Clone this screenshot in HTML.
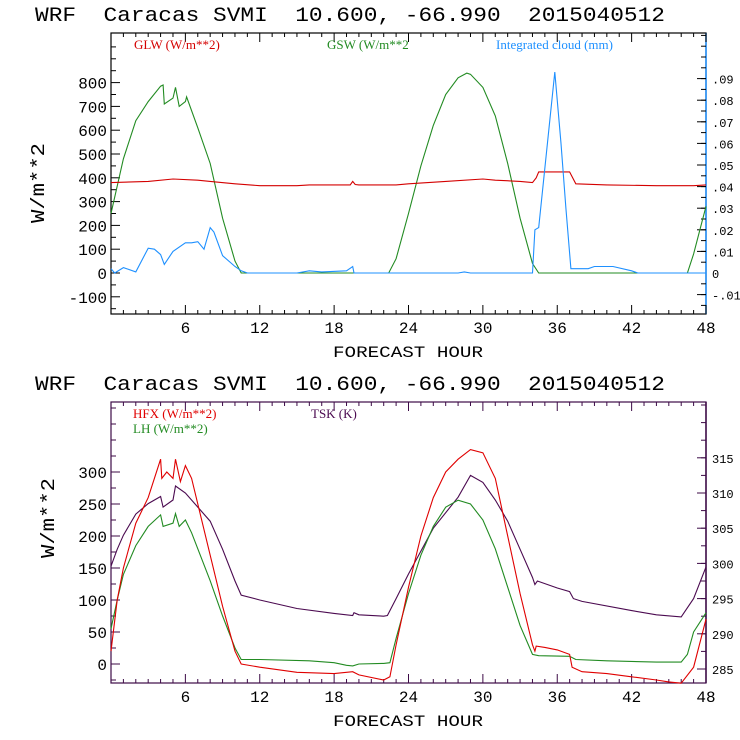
<!DOCTYPE html>
<html><head><meta charset="utf-8">
<style>
html,body{margin:0;padding:0;background:#fff;}
svg{display:block;font-family:"Liberation Mono",monospace;}
.t{font-size:20px;white-space:pre;}
.tk{font-size:16px;}
.lg{font-family:"Liberation Serif",serif;font-size:13px;}
</style></head>
<body>
<svg id="c" width="740" height="740" xmlns="http://www.w3.org/2000/svg">
<text class="t" x="35" y="21" textLength="630" lengthAdjust="spacingAndGlyphs" xml:space="preserve">WRF  Caracas SVMI  10.600, -66.990  2015040512</text>
<text class="t" x="35" y="390" textLength="630" lengthAdjust="spacingAndGlyphs" xml:space="preserve">WRF  Caracas SVMI  10.600, -66.990  2015040512</text>
<g id="top"></g><g id="bot"></g>
</svg>
<script>
// ---- top chart data ----
const gswHours=[0,1,2,3,4,4.2,4.3,5,5.2,5.5,6,6.1,7,8,9,10,10.5,22.4,23,24,25,26,27,28,28.7,29,30,31,32,33,34,34.5,46.5,47,48];
const gswVals=[250,480,640,720,785,790,710,735,780,700,720,740,610,460,230,50,0,0,60,250,450,620,750,820,840,835,780,660,460,230,40,0,0,80,280];
const glwHours=[0,3,5,7,8,10,12,15,16,19.3,19.5,19.7,20,23,24,27,30,31,33,34,34.3,34.5,37,37.5,40,44,47,48];
const glwVals=[380,385,395,390,385,375,367,367,370,370,385,372,370,370,375,385,395,390,385,380,400,425,425,375,370,367,367,370];
const cldHours=[0,0.3,1,2,3,3.5,4,4.3,5,6,6.5,7,7.5,8,8.3,9,10,10.5,11,15,16,17,19,19.5,19.6,28,28.5,29,34,34.2,34.5,35.8,36.3,36.7,37.1,38.5,39,40.5,42,42.5,48];
const cldVals=[0.002,0,0.0025,0.0005,0.0115,0.011,0.0085,0.004,0.01,0.014,0.014,0.0145,0.011,0.021,0.019,0.008,0.003,0.001,0,0,0.001,0.0005,0.001,0.003,0,0,0.0005,0,0,0.02,0.021,0.093,0.06,0.03,0.002,0.002,0.003,0.003,0.001,0,0];
const topLeftTicks=[-100,0,100,200,300,400,500,600,700,800];
const topRightTicks=[-0.01,0,0.01,0.02,0.03,0.04,0.05,0.06,0.07,0.08,0.09];
const topRightLabels=['-.01','0','.01','.02','.03','.04','.05','.06','.07','.08','.09'];
const xTicks=[6,12,18,24,30,36,42,48];
// ---- bottom chart data ----
const hfxHours=[0,0.5,1,2,3,4,4.1,4.5,5,5.2,5.6,6,6.5,7,8,9,10,10.5,12,15,18,19.5,20,22,22.5,23,24,25,26,27,28,29,30,31,32,33,34,34.2,34.3,35,36,37,37.2,38,40,42,44,45,46,47,48];
const hfxVals=[20,100,150,220,260,320,290,300,290,320,285,310,290,250,170,90,20,0,-5,-13,-15,-12,-17,-25,-20,30,120,200,260,300,320,335,330,290,200,110,30,20,28,26,22,15,-5,-12,-15,-20,-25,-28,-30,-5,70];
const lhHours=[0,0.5,1,2,3,4,4.2,5,5.2,5.5,6,6.5,7,8,9,10,10.5,12,16,18,19,19.5,20,22,22.5,23,24,25,26,27,28,29,30,31,32,33,34,34.5,37,37.5,40,44,46,46.5,47,48];
const lhVals=[55,100,140,185,215,233,215,220,235,215,225,205,180,130,75,25,7,7,5,2,-2,-3,0,1,2,40,110,170,215,245,256,250,225,180,120,60,15,13,12,7,5,3,3,15,50,80];
const tskHours=[0,0.5,1,2,3,4,4.2,5,5.2,6,7,8,9,10,10.5,12,15,18,19.5,19.6,20,22,22.3,23,24,26,28,29,30,31,32,33,34,34.2,34.4,36,37,37.3,38,42,44,46,47,48];
const tskVals=[299.6,302,304,307,308.5,309.5,308,309,311,310,308,306,302,297.5,295.5,294.8,293.6,292.9,292.6,293,292.7,292.5,292.6,295,298.5,305,309.4,312.5,311.5,309,306,302,298,297,297.5,296.5,296,295,294.6,293.3,292.7,292.4,295,299.5];
const botLeftTicks=[0,50,100,150,200,250,300];
const botRightTicks=[285,290,295,300,305,310,315];

const NS='http://www.w3.org/2000/svg';
function mk(parent,tag,attrs){const e=document.createElementNS(NS,tag);for(const k in attrs)e.setAttribute(k,attrs[k]);parent.appendChild(e);return e;}
const X0=111,X1=706;
const xs=h=>X0+(X1-X0)*h/48;

function frame(g,top,bot,col,rcol){
  const r=mk(g,'rect',{x:X0,y:top,width:X1-X0,height:bot-top,fill:'none',stroke:col,'stroke-width':1.2});
  
  
  const rl=mk(g,'line',{x1:X1,y1:top,x2:X1,y2:bot,stroke:rcol,'stroke-width':1.5});
  
  
  for(let h=1;h<=48;h++){
    const L=h%6===0?9:4;
    mk(g,'line',{x1:xs(h),y1:bot,x2:xs(h),y2:bot-L,stroke:col});
    mk(g,'line',{x1:xs(h),y1:top,x2:xs(h),y2:top+L,stroke:col});
  }
  xTicks.forEach(h=>{
    const t=mk(g,'text',{x:xs(h),y:bot+19,'text-anchor':'middle',class:'tk'});
    t.textContent=h;
    
    
  });
  const xt=mk(g,'text',{x:408,y:bot+43,'text-anchor':'middle',class:'tk',textLength:150,lengthAdjust:'spacingAndGlyphs'});
  xt.textContent='FORECAST HOUR';
  
  
}
function line(g,hours,vals,ys,col,name){
  const d=hours.map((h,i)=>(i?'L':'M')+xs(h).toFixed(1)+' '+ys(vals[i]).toFixed(1)).join('');
  const p=mk(g,'path',{d:d,fill:'none',stroke:col,'stroke-width':1.1});
  
  
}
function leftAxis(g,ticks,ys,minorStep,lo,hi,top,bot,col,ty){
  for(let v=lo;v<=hi;v+=minorStep){const y=ys(v);if(y<top||y>bot)continue;
    const maj=ticks.includes(v);mk(g,'line',{x1:X0,y1:y,x2:X0+(maj?9:5),y2:y,stroke:col});}
  ticks.forEach(v=>{const t=mk(g,'text',{x:X0-4,y:ys(v)+6,'text-anchor':'end',class:'tk'});t.textContent=v;
    
    });
  const yt=mk(g,'text',{x:0,y:0,class:'tk','text-anchor':'middle',textLength:80,lengthAdjust:'spacingAndGlyphs',transform:`translate(${ty[0]},${ty[1]}) rotate(-90)`,style:'font-size:19px'});
  yt.textContent='W/m**2';
  
  
}
function rightAxis(g,ticks,labels,ys,minorStep,lo,hi,top,bot,col,fs){
  for(let v=lo;v<=hi+1e-9;v+=minorStep){const y=ys(v);if(y<top||y>bot)continue;
    mk(g,'line',{x1:X1,y1:y,x2:X1-5,y2:y,stroke:col});}
  ticks.forEach((v,i)=>{mk(g,'line',{x1:X1,y1:ys(v),x2:X1-9,y2:ys(v),stroke:col});
    const t=mk(g,'text',{x:X1+6,y:ys(v)+5,class:'tk',style:'font-size:'+fs+'px'});t.textContent=labels[i];
    
    });
}
function legend(g,x,y,txt,col,name){
  const t=mk(g,'text',{x:x,y:y,class:'lg',fill:col});t.textContent=txt;
  
  
}
// top chart
(function(){
  const g=document.getElementById('top');
  const T=33,B=314;
  const ysL=v=>273-v*0.238;
  const ysR=v=>273-v*2160;
  frame(g,T,B,'#000','#1e90ff');
  leftAxis(g,topLeftTicks,ysL,50,-150,950,T,B,'#000',[44,183]);
  rightAxis(g,topRightTicks,topRightLabels,ysR,0.005,-0.015,0.11,T,B,'#000',12);
  line(g,gswHours,gswVals,ysL,'#228b22','gsw-line');
  line(g,glwHours,glwVals,ysL,'#d40000','glw-line');
  line(g,cldHours,cldVals,ysR,'#1e90ff','cloud-line');
  legend(g,134,49,'GLW (W/m**2)','#d40000','legend-glw');
  legend(g,327,49,'GSW (W/m**2','#228b22','legend-gsw');
  legend(g,496,49,'Integrated cloud (mm)','#1e90ff','legend-cloud');
})();
// bottom chart
(function(){
  const g=document.getElementById('bot');
  const T=402,B=683;
  const ysL=v=>664-v*0.64;
  const ysR=v=>669-(v-285)*7.04;
  frame(g,T,B,'#3c0a46','#3c0a46');
  leftAxis(g,botLeftTicks,ysL,25,-50,450,T,B,'#3c0a46',[54,518]);
  rightAxis(g,botRightTicks,botRightTicks.map(String),ysR,2.5,282.5,322.5,T,B,'#3c0a46',12);
  line(g,tskHours,tskVals,ysR,'#4b0a50','tsk-line');
  line(g,lhHours,lhVals,ysL,'#228b22','lh-line');
  line(g,hfxHours,hfxVals,ysL,'#e00000','hfx-line');
  legend(g,133,418,'HFX (W/m**2)','#e00000','legend-hfx');
  legend(g,133,433,'LH  (W/m**2)','#228b22','legend-lh');
  legend(g,311,418,'TSK (K)','#4b0a50','legend-tsk');
})();
</script>
</body></html>
